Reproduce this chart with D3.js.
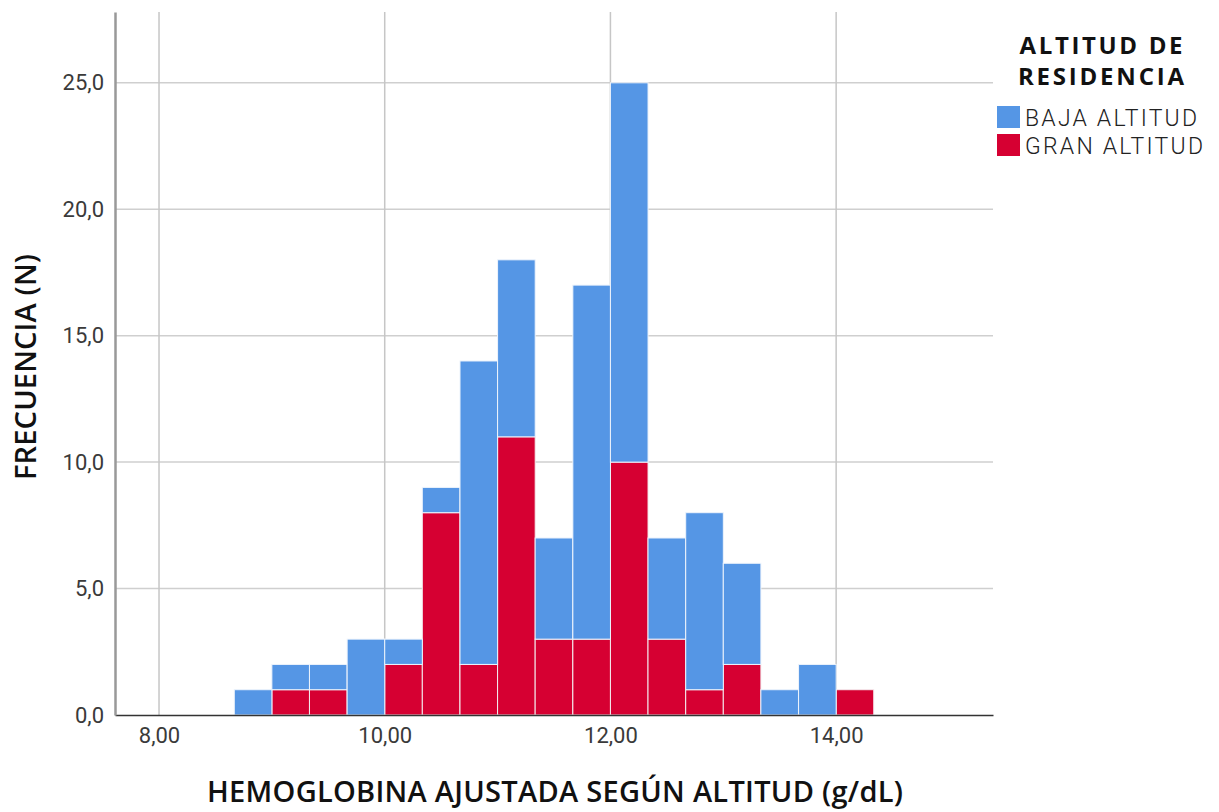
<!DOCTYPE html>
<html>
<head>
<meta charset="utf-8">
<script src="https://cdn.jsdelivr.net/npm/d3@7"></script>
<style>
  body { margin: 0; background: #fff; }
  svg text { font-family: Roboto, "Liberation Sans", sans-serif; }
</style>
</head>
<body>
<svg id="chart"></svg>
<script>
// Bin lower edges (width 1/3 g/dL)
const binStarts = [8.667, 9.0, 9.333, 9.667, 10.0, 10.333, 10.667, 11.0, 11.333, 11.667, 12.0, 12.333, 12.667, 13.0, 13.333, 13.667, 14.0];
const binWidth = 1 / 3;
// counts per bin
const granAltitud = [0, 1, 1, 0, 2, 8, 2, 11, 3, 3, 10, 3, 1, 2, 0, 0, 1];
const bajaAltitud = [1, 1, 1, 3, 1, 1, 12, 7, 4, 14, 15, 4, 7, 4, 1, 2, 0];

const seriesNames = ['BAJA ALTITUD', 'GRAN ALTITUD'];
const seriesColors = ['#5596e5', '#d60032'];
const xTicks = [8, 10, 12, 14];
const yTicks = [0, 5, 10, 15, 20, 25];

const width = 1219, height = 812;
const margin = { top: 12, right: 226, bottom: 97, left: 115 };
const innerW = width - margin.left - margin.right;
const innerH = height - margin.top - margin.bottom;

const svg = d3.select('#chart')
  .attr('width', width)
  .attr('height', height);

const chart = svg.append('g')
  .attr('transform', `translate(${margin.left},${margin.top})`);

const xScale = d3.scaleLinear()
  .domain([7.61, 15.39])
  .range([0, innerW]);

const yScale = d3.scaleLinear()
  .domain([0, 27.8])
  .range([innerH, 0]);

// gridlines
chart.append('g')
  .selectAll('line')
  .data(yTicks.filter(d => d > 0))
  .join('line')
  .attr('x1', 0)
  .attr('x2', innerW)
  .attr('y1', d => yScale(d))
  .attr('y2', d => yScale(d))
  .attr('stroke', '#cfcfcf')
  .attr('stroke-width', 1.5);

chart.append('g')
  .selectAll('line')
  .data(xTicks)
  .join('line')
  .attr('x1', d => xScale(d))
  .attr('x2', d => xScale(d))
  .attr('y1', 0)
  .attr('y2', innerH)
  .attr('stroke', '#c6c6c6')
  .attr('stroke-width', 1.5);

// stacked bars: red bottom, blue on top
const rows = binStarts.map((b, i) => ({ x0: b, red: granAltitud[i], blue: bajaAltitud[i] }));

chart.selectAll('.bar-red')
  .data(rows)
  .join('rect')
  .attr('class', 'bar-red')
  .attr('x', d => xScale(d.x0))
  .attr('width', d => xScale(d.x0 + binWidth) - xScale(d.x0))
  .attr('y', d => yScale(d.red))
  .attr('height', d => yScale(0) - yScale(d.red))
  .attr('fill', seriesColors[1])
  .attr('stroke', '#f4eef0')
  .attr('stroke-width', 1);

chart.selectAll('.bar-blue')
  .data(rows)
  .join('rect')
  .attr('class', 'bar-blue')
  .attr('x', d => xScale(d.x0))
  .attr('width', d => xScale(d.x0 + binWidth) - xScale(d.x0))
  .attr('y', d => yScale(d.red + d.blue))
  .attr('height', d => yScale(d.red) - yScale(d.red + d.blue))
  .attr('fill', seriesColors[0])
  .attr('stroke', '#eef4fc')
  .attr('stroke-width', 1);

// axes
const xAxis = d3.axisBottom(xScale)
  .tickValues(xTicks)
  .tickSize(0)
  .tickPadding(12)
  .tickFormat(d => d3.format('.2f')(d).replace('.', ','));

const yAxis = d3.axisLeft(yScale)
  .tickValues(yTicks)
  .tickSize(0)
  .tickPadding(11)
  .tickFormat(d => d3.format('.1f')(d).replace('.', ','));

const xAxisG = chart.append('g')
  .attr('transform', `translate(0,${innerH})`)
  .call(xAxis);
xAxisG.select('.domain').attr('stroke', '#333').attr('stroke-width', 1.5);
xAxisG.selectAll('text')
  .attr('fill', '#3a3a3a')
  .style('font-size', '22px');

const yAxisG = chart.append('g')
  .call(yAxis);
yAxisG.select('.domain').attr('stroke', '#999').attr('stroke-width', 2.5);
yAxisG.selectAll('text')
  .attr('fill', '#3a3a3a')
  .style('font-size', '22px');

// axis titles
svg.append('text')
  .attr('x', 555)
  .attr('y', 802)
  .attr('text-anchor', 'middle')
  .style('font-family', '"Open Sans", sans-serif')
  .style('font-weight', '600')
  .style('font-size', '29px')
  .attr('textLength', 696)
  .attr('fill', '#111')
  .text('HEMOGLOBINA AJUSTADA SEGÚN ALTITUD (g/dL)');

svg.append('text')
  .attr('transform', 'translate(36,367) rotate(-90)')
  .attr('text-anchor', 'middle')
  .style('font-family', '"Open Sans", sans-serif')
  .style('font-weight', '600')
  .style('font-size', '29px')
  .attr('textLength', 226)
  .attr('fill', '#111')
  .text('FRECUENCIA (N)');

// legend
const legend = svg.append('g');
legend.append('text')
  .attr('x', 1101)
  .attr('y', 54)
  .attr('text-anchor', 'middle')
  .style('font-family', '"Open Sans", sans-serif')
  .style('font-weight', '700')
  .style('font-size', '24px')
  .attr('textLength', 163)
  .attr('fill', '#111')
  .text('ALTITUD DE');
legend.append('text')
  .attr('x', 1101)
  .attr('y', 85)
  .attr('text-anchor', 'middle')
  .style('font-family', '"Open Sans", sans-serif')
  .style('font-weight', '700')
  .style('font-size', '24px')
  .attr('textLength', 166)
  .attr('fill', '#111')
  .text('RESIDENCIA');

const items = legend.selectAll('.item')
  .data(seriesNames)
  .join('g')
  .attr('class', 'item')
  .attr('transform', (d, i) => `translate(997,${106 + i * 28})`);
items.append('rect')
  .attr('width', 23)
  .attr('height', 22)
  .attr('fill', (d, i) => seriesColors[i]);
items.append('text')
  .attr('x', 28)
  .attr('y', 20)
  .style('font-size', '23px')
  .style('font-weight', '300')
  .attr('textLength', (d, i) => i === 0 ? 172 : 178)
  .attr('fill', '#222')
  .text(d => d);
</script>
</body>
</html>
